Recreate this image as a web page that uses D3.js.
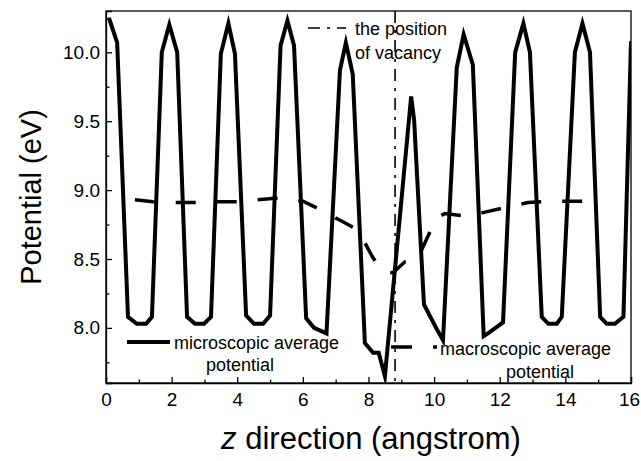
<!DOCTYPE html>
<html>
<head>
<meta charset="utf-8">
<script src="https://cdn.jsdelivr.net/npm/d3@7"></script>
<style>
  body { margin: 0; background: #fff; }
  svg text { font-family: Arial, "Liberation Sans", sans-serif; fill: #000; }
</style>
</head>
<body>
<svg id="chart" width="641" height="461"></svg>
<script>
// microscopic average potential (z in angstrom, eV)
const microZ = [0.09, 0.34, 0.67, 0.94, 1.22, 1.40, 1.70, 1.93, 2.17, 2.47, 2.71, 2.99, 3.20,
  3.50, 3.73, 3.93, 4.27, 4.51, 4.79, 5.00, 5.32, 5.53, 5.73, 6.10, 6.34, 6.72,
  7.13, 7.31, 7.52, 7.89, 8.14, 8.31, 8.50, 9.30, 9.39, 9.69, 10.06, 10.27,
  10.69, 10.90, 11.18, 11.51, 11.64, 12.10, 12.47, 12.72, 12.92, 13.28, 13.48, 13.74, 13.89,
  14.29, 14.52, 14.75, 15.06, 15.26, 15.51, 15.77, 16.0];
const microV = [10.25, 10.07, 8.08, 8.03, 8.03, 8.08, 10.00, 10.20, 10.00, 8.08, 8.03, 8.03, 8.08,
  9.99, 10.21, 9.99, 8.09, 8.03, 8.03, 8.09, 10.05, 10.23, 10.05, 8.07, 8.00, 7.96,
  9.87, 10.07, 9.84, 7.89, 7.82, 7.82, 7.65, 9.68, 9.51, 8.17, 8.00, 7.91,
  9.89, 10.13, 9.91, 7.94, 7.96, 8.04, 10.00, 10.21, 10.00, 8.08, 8.03, 8.03, 8.08,
  10.00, 10.21, 10.00, 8.08, 8.03, 8.03, 8.08, 10.08];

// macroscopic average potential
const macroZ = [0.88, 1.43, 2.16, 2.77, 3.41, 4.02, 4.63, 5.30, 6.00, 6.52, 7.22, 7.68,
  8.11, 8.41, 8.75, 9.11, 9.51, 9.94, 10.09, 10.33, 11.03, 11.55, 12.47, 12.86,
  13.53, 14.05, 14.81, 15.12];
const macroV = [8.93, 8.915, 8.91, 8.91, 8.915, 8.915, 8.93, 8.945, 8.92, 8.86, 8.77, 8.71,
  8.52, 8.41, 8.40, 8.48, 8.51, 8.73, 8.80, 8.83, 8.81, 8.84, 8.89, 8.91,
  8.92, 8.92, 8.92, 8.92];

const vacancyZ = [8.81];

const xTicks = [0, 2, 4, 6, 8, 10, 12, 14, 16];
const xMinor = [1, 3, 5, 7, 9, 11, 13, 15];
const yTicks = [8.0, 8.5, 9.0, 9.5, 10.0];
const yMinor = [7.75, 8.25, 8.75, 9.25, 9.75, 10.25];

const svg = d3.select("#chart");
const pl = 106, pr = 631, pt = 11, pb = 383;

const x = d3.scaleLinear().domain([0, 16]).range([pl, pr]);
const y = d3.scaleLinear().domain([7.6, 10.3]).range([pb, pt]);

svg.append("defs").append("clipPath").attr("id", "plotclip")
  .append("rect").attr("x", pl).attr("y", pt)
  .attr("width", pr - pl).attr("height", pb - pt);

const micro = microZ.map((z, i) => [z, microV[i]]);
const macro = macroZ.map((z, i) => [z, macroV[i]]);
const line = d3.line().x(d => x(d[0])).y(d => y(d[1]));

const plot = svg.append("g").attr("clip-path", "url(#plotclip)");

// vacancy marker
plot.selectAll("line.vac")
  .data(vacancyZ)
  .enter()
  .append("line")
  .attr("x1", d => x(d)).attr("x2", d => x(d))
  .attr("y1", pt).attr("y2", pb)
  .attr("stroke", "#000")
  .attr("stroke-width", 1.6)
  .attr("stroke-dasharray", "12,7,3,7");

plot.append("path")
  .attr("d", line(macro))
  .attr("fill", "none")
  .attr("stroke", "#000")
  .attr("stroke-width", 3.5)
  .attr("stroke-dasharray", "20,21");

plot.append("path")
  .attr("d", line(micro))
  .attr("fill", "none")
  .attr("stroke", "#000")
  .attr("stroke-width", 4)
  .attr("stroke-linejoin", "miter")
  .attr("stroke-miterlimit", 8);

// frame
svg.append("rect")
  .attr("x", pl).attr("y", pt)
  .attr("width", pr - pl).attr("height", pb - pt)
  .attr("fill", "none").attr("stroke", "#000").attr("stroke-width", 1.3);

// axes with inward ticks
const xAxis = svg.append("g").attr("transform", `translate(0,${pb})`)
  .call(d3.axisBottom(x).tickValues(xTicks).tickSize(-6).tickFormat(d3.format("d")));
svg.append("g").attr("transform", `translate(0,${pb})`)
  .call(d3.axisBottom(x).tickValues(xMinor).tickSize(-3.5).tickFormat(""))
  .call(g => g.select(".domain").remove());

const yAxis = svg.append("g").attr("transform", `translate(${pl},0)`)
  .call(d3.axisLeft(y).tickValues(yTicks).tickSize(-6).tickFormat(d3.format(".1f")));
svg.append("g").attr("transform", `translate(${pl},0)`)
  .call(d3.axisLeft(y).tickValues(yMinor).tickSize(-3.5).tickFormat(""))
  .call(g => g.select(".domain").remove());

svg.selectAll(".tick line").attr("stroke", "#000").attr("stroke-width", 1.3);
svg.selectAll(".domain").attr("stroke", "#000").attr("stroke-width", 1.3);
xAxis.selectAll("text").attr("font-size", 19).attr("font-family", "Arial, 'Liberation Sans'")
  .attr("fill", "#000").attr("y", 10)
  .attr("dx", d => d === 16 ? -2 : 0);
yAxis.selectAll("text").attr("font-size", 19).attr("font-family", "Arial, 'Liberation Sans'")
  .attr("fill", "#000").attr("x", -6);

// axis titles
const xt = svg.append("text")
  .attr("x", 371).attr("y", 449)
  .attr("text-anchor", "middle").attr("font-size", 31);
xt.append("tspan").attr("font-style", "italic").text("z");
xt.append("tspan").text(" direction (angstrom)");

svg.append("text")
  .attr("transform", `translate(41,197) rotate(-90)`)
  .attr("text-anchor", "middle").attr("font-size", 29)
  .text("Potential (eV)");

// legends
const lg = svg.append("g").attr("font-size", 18);
lg.append("line").attr("x1", 308).attr("x2", 346).attr("y1", 28).attr("y2", 28)
  .attr("stroke", "#000").attr("stroke-width", 1.6).attr("stroke-dasharray", "12,7,3,7");
lg.append("text").attr("x", 355).attr("y", 35).text("the position");
lg.append("text").attr("x", 355).attr("y", 59).text("of vacancy");

lg.append("line").attr("x1", 127).attr("x2", 170).attr("y1", 342).attr("y2", 342)
  .attr("stroke", "#000").attr("stroke-width", 4);
lg.append("text").attr("x", 174).attr("y", 349).text("microscopic average");
lg.append("text").attr("x", 240).attr("y", 371).attr("text-anchor", "middle").text("potential");

lg.append("line").attr("x1", 391).attr("x2", 437).attr("y1", 347).attr("y2", 347)
  .attr("stroke", "#000").attr("stroke-width", 3.5).attr("stroke-dasharray", "21,21");
lg.append("text").attr("x", 440).attr("y", 355).text("macroscopic average");
lg.append("text").attr("x", 540).attr("y", 378).attr("text-anchor", "middle").text("potential");
</script>
</body>
</html>
